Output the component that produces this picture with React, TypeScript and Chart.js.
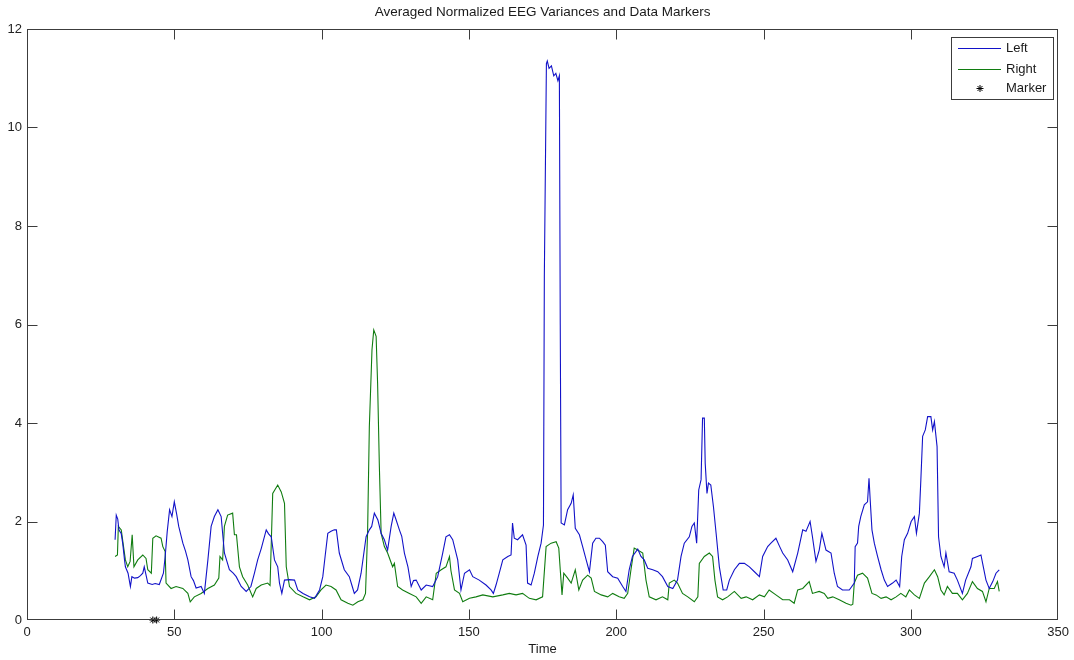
import React, { useEffect, useRef } from "react";
import { Chart, registerables } from "chart.js";

Chart.register(...registerables);

const titleText = "Averaged Normalized EEG Variances and Data Markers";
const xAxisLabel = "Time";
const legendLabels = ["Left", "Right", "Marker"];
const xTickValues = [0, 50, 100, 150, 200, 250, 300, 350];
const yTickValues = [0, 2, 4, 6, 8, 10, 12];

const leftTime = [
  29.9, 30.3, 30.8, 31.2, 32.0, 32.5, 33.1, 33.4, 34.3, 35.1, 35.6, 36.5, 37.6, 38.5, 39.3, 39.8,
  41.0, 42.5, 43.5, 44.9, 46.3, 46.9, 47.6, 48.4, 49.2, 50.0, 50.8, 51.5, 52.9, 53.8, 54.6, 55.7,
  56.5, 57.4, 59.1, 60.2, 61.4, 62.5, 63.6, 64.8, 65.9, 67.0, 68.7, 70.0, 71.0, 72.7, 74.4, 76.0,
  77.2, 78.3, 79.5, 81.2, 82.0, 82.9, 84.0, 85.1, 85.7, 86.5, 87.4, 89.0, 90.8, 91.9, 93.7, 95.9,
  97.6, 99.3, 100.4, 101.2, 102.1, 103.2, 104.3, 105.0, 106.0, 107.7, 109.4, 110.3, 111.1, 112.2,
  113.4, 115.1, 116.2, 117.0, 117.9, 119.1, 120.2, 121.3, 122.4, 123.6, 124.5, 125.3, 126.4, 127.2,
  128.1, 129.3, 130.4, 131.2, 132.1, 133.8, 135.5, 137.7, 139.4, 141.1, 142.2, 143.4, 144.5, 146.2,
  147.3, 148.5, 150.2, 151.3, 153.5, 155.8, 157.5, 158.3, 159.2, 160.3, 161.5, 163.2, 164.3, 164.8,
  165.4, 166.5, 168.2, 169.4, 169.9, 171.1, 172.2, 173.4, 174.5, 175.3, 175.6, 176.3, 176.6, 177.2,
  178.0, 178.8, 179.5, 180.2, 180.7, 181.0, 181.3, 182.4, 183.5, 184.7, 185.4, 186.1, 187.5, 188.6,
  189.8, 190.9, 192.0, 193.1, 194.3, 195.4, 196.3, 197.1, 198.8, 200.5, 202.2, 203.3, 204.4, 205.5,
  207.3, 208.4, 209.5, 210.7, 212.4, 214.1, 215.7, 217.5, 219.2, 220.8, 222.0, 223.1, 224.8, 225.7,
  226.5, 227.3, 228.0, 228.8, 229.3, 229.9, 230.2, 230.8, 231.3, 232.1, 233.0, 233.9, 235.0, 236.3,
  237.5, 238.4, 240.1, 241.8, 243.5, 245.2, 246.9, 248.6, 249.7, 251.4, 252.5, 254.2, 255.4, 256.5,
  258.2, 259.9, 261.6, 263.3, 264.4, 265.8, 266.6, 267.8, 268.9, 269.8, 271.2, 272.9, 274.0, 275.1,
  276.8, 279.1, 280.8, 281.1, 281.9, 282.3, 283.0, 284.2, 285.3, 285.8, 286.2, 286.8, 287.6, 288.7,
  289.9, 291.0, 292.1, 293.8, 295.0, 296.2, 296.9, 297.8, 298.9, 300.1, 301.2, 301.9, 302.9, 303.4,
  304.0, 304.9, 305.7, 306.8, 307.4, 308.0, 308.9, 309.4, 310.2, 311.3, 311.9, 313.0, 314.7, 315.8,
  317.5, 318.6, 320.4, 320.9, 322.6, 323.8, 324.6, 325.5, 326.6, 327.8, 328.9, 330.0,
];
const leftValue = [
  1.63, 2.13, 2.05, 1.83, 1.75, 1.55, 1.22, 1.08, 0.95, 0.68, 0.88, 0.85, 0.86, 0.9, 0.95, 1.08,
  0.75, 0.72, 0.74, 0.72, 0.95, 1.29, 1.8, 2.24, 2.1, 2.4, 2.15, 1.9, 1.56, 1.4, 1.22, 0.88,
  0.8, 0.65, 0.68, 0.54, 1.22, 1.9, 2.1, 2.24, 2.1, 1.36, 1.02, 0.95, 0.88, 0.68, 0.58, 0.68,
  0.95, 1.22, 1.45, 1.83, 1.75, 1.69, 1.22, 1.08, 0.75, 0.54, 0.81, 0.82, 0.81, 0.61, 0.54, 0.47,
  0.44, 0.61, 0.88, 1.3, 1.76, 1.8, 1.83, 1.83, 1.36, 1.02, 0.88, 0.7, 0.54, 0.61,
  0.95, 1.69, 1.83, 1.9, 2.17, 2.03, 1.76, 1.63, 1.42, 1.9, 2.17, 2.03, 1.83, 1.7,
  1.36, 1.08, 0.68, 0.8, 0.81, 0.61, 0.71, 0.68, 0.88, 1.36, 1.69, 1.73, 1.63, 1.22,
  0.61, 0.95, 1.02, 0.88, 0.81, 0.71, 0.61, 0.54, 0.71, 0.95, 1.22, 1.29, 1.32, 1.97,
  1.66, 1.63, 1.73, 1.52, 0.75, 0.71, 0.95, 1.29, 1.56, 1.93, 7.0, 11.3, 11.35, 11.2,
  11.25, 11.05, 11.1, 10.95, 11.05, 6.0, 1.97, 1.93, 2.24, 2.37, 2.54, 1.86, 1.73, 1.49,
  1.22, 0.98, 1.56, 1.66, 1.66, 1.59, 1.52, 0.98, 0.88, 0.85, 0.68, 0.58, 1.02, 1.29,
  1.44, 1.29, 1.22, 1.05, 1.02, 0.98, 0.88, 0.68, 0.64, 0.81, 1.29, 1.56, 1.69, 1.9,
  1.97, 1.56, 2.64, 2.85, 4.1, 4.1, 3.18, 2.57, 2.78, 2.74, 2.3, 1.76, 1.08, 0.61,
  0.61, 0.81, 1.02, 1.15, 1.15, 1.08, 0.98, 0.88, 1.29, 1.49, 1.56, 1.66, 1.5, 1.36,
  1.22, 0.98, 1.36, 1.83, 1.8, 2.0, 1.69, 1.19, 1.42, 1.76, 1.42, 1.36, 0.95, 0.68,
  0.61, 0.61, 0.75, 1.49, 1.56, 1.9, 2.1, 2.34, 2.4, 2.88, 2.44, 1.83, 1.56, 1.29,
  1.02, 0.81, 0.68, 0.75, 0.81, 0.68, 1.29, 1.63, 1.76, 2.0, 2.1, 1.76, 2.17, 2.85,
  3.73, 3.86, 4.13, 4.13, 3.86, 4.03, 3.52, 1.69, 1.29, 1.08, 1.36, 0.98, 0.95, 0.81,
  0.54, 0.81, 1.08, 1.25, 1.29, 1.32, 1.08, 0.81, 0.64, 0.78, 0.95, 1.02,
];

const rightTime = [
  29.9, 30.7, 31.0, 32.0, 32.6, 33.4, 34.2, 35.0, 35.7, 36.3, 37.6, 39.3, 40.4, 41.0, 42.2, 42.7,
  43.8, 45.5, 46.1, 46.9, 47.2, 48.9, 50.6, 52.9, 54.6, 55.4, 56.8, 59.1, 61.4, 63.6, 65.1, 65.5,
  66.4, 67.0, 68.1, 69.8, 70.4, 71.1, 72.1, 73.2, 74.9, 76.6, 77.8, 79.5, 81.7, 82.5, 83.4, 85.1,
  86.3, 87.4, 88.0, 89.1, 91.3, 93.7, 95.9, 98.1, 99.8, 101.5, 103.2, 104.9, 106.6, 108.9, 110.6,
  112.3, 114.0, 114.9, 115.6, 116.2, 117.1, 117.7, 118.5, 119.0, 119.6, 120.2, 121.3, 122.4, 124.1,
  124.7, 125.8, 127.5, 129.8, 132.1, 133.8, 135.5, 137.7, 138.9, 140.6, 142.2, 143.4, 143.9, 145.1,
  146.8, 147.9, 150.2, 152.4, 154.7, 158.1, 161.5, 163.7, 166.0, 168.2, 170.5, 172.8, 175.0, 176.2,
  177.9, 179.6, 180.5, 181.0, 181.6, 182.2, 183.5, 184.7, 186.1, 187.3, 188.6, 190.3, 191.5, 192.6,
  194.9, 197.1, 198.8, 201.0, 202.7, 203.9, 205.0, 206.1, 207.3, 209.0, 210.1, 211.2, 213.5, 215.7,
  217.5, 218.0, 219.7, 220.8, 222.5, 224.3, 226.5, 227.7, 228.2, 229.9, 231.6, 232.7, 233.5, 234.4,
  236.1, 237.8, 240.1, 242.4, 244.1, 246.3, 248.6, 250.3, 251.9, 254.2, 256.5, 258.8, 260.4, 261.6,
  263.3, 265.5, 266.6, 268.9, 270.6, 271.8, 273.5, 275.7, 278.0, 279.7, 280.3, 280.8, 281.9, 283.6,
  285.3, 286.8, 288.2, 289.9, 291.6, 293.3, 295.0, 296.6, 298.3, 299.5, 301.2, 302.9, 304.6, 306.3,
  308.0, 309.1, 310.2, 311.3, 312.4, 314.1, 315.8, 317.5, 319.2, 320.9, 322.6, 324.3, 325.5, 326.6,
  328.3, 329.4, 330.0,
];
const rightValue = [
  1.29, 1.32, 1.9, 1.83, 1.56, 1.22, 1.08, 1.19, 1.73, 1.08, 1.22, 1.32, 1.25, 1.02, 0.95, 1.66,
  1.71, 1.66, 1.49, 1.39, 0.75, 0.64, 0.68, 0.64, 0.54, 0.37, 0.47, 0.54, 0.64, 0.71, 0.85, 1.29,
  1.22, 1.9, 2.13, 2.17, 1.73, 1.73, 1.08, 0.88, 0.71, 0.47, 0.64, 0.71, 0.75, 0.7, 2.57, 2.74,
  2.6, 2.37, 1.08, 0.68, 0.54, 0.47, 0.41, 0.47, 0.61, 0.71, 0.68, 0.61, 0.41, 0.34, 0.3,
  0.37, 0.41, 0.54, 1.76, 3.93, 5.49, 5.89, 5.76, 4.81, 3.12, 1.76, 1.49, 1.36, 1.08,
  1.15, 0.68, 0.61, 0.54, 0.47, 0.34, 0.47, 0.41, 0.95, 1.02, 1.08, 1.29, 1.0, 0.61,
  0.54, 0.37, 0.44, 0.47, 0.51, 0.47, 0.51, 0.54, 0.51, 0.54, 0.44, 0.41, 0.47, 1.49,
  1.56, 1.59, 1.46, 1.02, 0.51, 0.95, 0.85, 0.75, 1.02, 0.61, 0.81, 0.91, 0.85, 0.58,
  0.51, 0.47, 0.54, 0.47, 0.44, 0.54, 1.02, 1.46, 1.42, 1.36, 0.81, 0.47, 0.41, 0.47,
  0.41, 0.75, 0.81, 0.75, 0.54, 0.47, 0.37, 0.47, 1.15, 1.29, 1.36, 1.29, 0.81, 0.47,
  0.41, 0.47, 0.58, 0.44, 0.47, 0.41, 0.51, 0.47, 0.61, 0.51, 0.41, 0.41, 0.34, 0.61,
  0.64, 0.78, 0.54, 0.58, 0.54, 0.44, 0.47, 0.41, 0.34, 0.3, 0.32, 0.75, 0.91, 0.95,
  0.85, 0.54, 0.51, 0.44, 0.47, 0.41, 0.47, 0.54, 0.47, 0.61, 0.51, 0.44, 0.75, 0.88,
  1.02, 0.88, 0.61, 0.51, 0.68, 0.54, 0.54, 0.41, 0.54, 0.78, 0.64, 0.58, 0.37, 0.64,
  0.64, 0.78, 0.58,
];

const markerTime = [42.7, 44.0];
const markerValue = [0, 0];

const FONT = '"Liberation Sans", Arial, sans-serif';
const LEFT_COLOR = "#1212c8";
const RIGHT_COLOR = "#107c10";

function toPoints(xs: number[], ys: number[]) {
  return xs.map((x, i) => ({ x, y: ys[i] }));
}

function drawStar(ctx: CanvasRenderingContext2D, x: number, y: number, r: number) {
  ctx.beginPath();
  ctx.moveTo(x - r, y);
  ctx.lineTo(x + r, y);
  ctx.moveTo(x, y - r);
  ctx.lineTo(x, y + r);
  const d = r * 0.7071;
  ctx.moveTo(x - d, y - d);
  ctx.lineTo(x + d, y + d);
  ctx.moveTo(x - d, y + d);
  ctx.lineTo(x + d, y - d);
  ctx.stroke();
}

const framePlugin = {
  id: "matlabFrame",
  afterDatasetsDraw(chart: any) {
    const { ctx, chartArea, scales } = chart;
    const { left, right, top, bottom } = chartArea;
    const L = Math.round(left) + 0.5;
    const R = Math.round(right) - 0.5;
    const T = Math.round(top) + 0.5;
    const B = Math.round(bottom) - 0.5;
    const clamp = (v: number, a: number, b: number) => Math.min(b, Math.max(a, v));
    ctx.save();
    ctx.strokeStyle = "#3c3c3c";
    ctx.lineWidth = 1;
    ctx.strokeRect(L, T, R - L, B - T);
    const tl = 10;
    ctx.beginPath();
    xTickValues.forEach((v) => {
      const px = clamp(Math.round(scales.x.getPixelForValue(v)) + 0.5, L, R);
      ctx.moveTo(px, B);
      ctx.lineTo(px, B - tl);
      ctx.moveTo(px, T);
      ctx.lineTo(px, T + tl);
    });
    yTickValues.forEach((v) => {
      const py = clamp(Math.round(scales.y.getPixelForValue(v)) + 0.5, T, B);
      ctx.moveTo(L, py);
      ctx.lineTo(L + tl, py);
      ctx.moveTo(R, py);
      ctx.lineTo(R - tl, py);
    });
    ctx.stroke();

    // legend box
    const bx = 951.5, by = 37.5, bw = 102, bh = 62;
    ctx.fillStyle = "#ffffff";
    ctx.fillRect(bx, by, bw, bh);
    ctx.strokeStyle = "#3c3c3c";
    ctx.strokeRect(bx, by, bw, bh);
    const rows = [48.5, 69.5, 88.5];
    ctx.lineWidth = 1;
    ctx.strokeStyle = LEFT_COLOR;
    ctx.beginPath();
    ctx.moveTo(958, rows[0]);
    ctx.lineTo(1001, rows[0]);
    ctx.stroke();
    ctx.strokeStyle = RIGHT_COLOR;
    ctx.beginPath();
    ctx.moveTo(958, rows[1]);
    ctx.lineTo(1001, rows[1]);
    ctx.stroke();
    ctx.strokeStyle = "#000000";
    drawStar(ctx, 980, rows[2], 3.5);
    ctx.fillStyle = "#1a1a1a";
    ctx.font = `13px ${FONT}`;
    ctx.textAlign = "left";
    ctx.textBaseline = "middle";
    legendLabels.forEach((t, i) => ctx.fillText(t, 1006, rows[i]));

    // title and axis label
    ctx.textAlign = "center";
    ctx.font = `13.5px ${FONT}`;
    ctx.fillText(titleText, (left + right) / 2, 12);
    ctx.font = `13px ${FONT}`;
    ctx.fillText(xAxisLabel, (left + right) / 2, 649);
    ctx.restore();
  },
};

export default function App() {
  const canvasRef = useRef<HTMLCanvasElement | null>(null);

  useEffect(() => {
    if (!canvasRef.current) return;
    const chart = new Chart(canvasRef.current, {
      type: "scatter",
      data: {
        datasets: [
          {
            label: legendLabels[0],
            data: toPoints(leftTime, leftValue),
            showLine: true,
            borderColor: LEFT_COLOR,
            backgroundColor: LEFT_COLOR,
            borderWidth: 1.1,
            pointRadius: 0,
            tension: 0,
          },
          {
            label: legendLabels[1],
            data: toPoints(rightTime, rightValue),
            showLine: true,
            borderColor: RIGHT_COLOR,
            backgroundColor: RIGHT_COLOR,
            borderWidth: 1.1,
            pointRadius: 0,
            tension: 0,
          },
          {
            label: legendLabels[2],
            data: toPoints(markerTime, markerValue),
            showLine: false,
            pointStyle: "star",
            pointRadius: 3.5,
            borderColor: "#000000",
            backgroundColor: "#000000",
            borderWidth: 1,
            clip: false,
          } as any,
        ],
      },
      options: {
        animation: false,
        responsive: false,
        events: [],
        layout: { padding: { left: 0, right: 15, top: 29, bottom: 0 } },
        plugins: {
          legend: { display: false },
          title: { display: false },
          tooltip: { enabled: false },
        },
        scales: {
          x: {
            type: "linear",
            min: 0,
            max: 350,
            afterFit: (s: any) => {
              s.height = 40;
            },
            afterBuildTicks: (s: any) => {
              s.ticks = xTickValues.map((v) => ({ value: v }));
            },
            grid: { display: false, drawTicks: false },
            border: { display: false },
            ticks: {
              autoSkip: false,
              maxRotation: 0,
              padding: 5,
              color: "#222222",
              font: { family: FONT, size: 13 },
            },
          },
          y: {
            type: "linear",
            min: 0,
            max: 12,
            afterFit: (s: any) => {
              s.width = 27;
            },
            afterBuildTicks: (s: any) => {
              s.ticks = yTickValues.map((v) => ({ value: v }));
            },
            grid: { display: false, drawTicks: false },
            border: { display: false },
            ticks: {
              autoSkip: false,
              padding: 5,
              color: "#222222",
              font: { family: FONT, size: 13 },
            },
          },
        },
      },
      plugins: [framePlugin],
    });
    return () => chart.destroy();
  }, []);

  return (
    <div style={{ position: "absolute", left: 0, top: 0, width: 1074, height: 660, background: "#ffffff" }}>
      <canvas ref={canvasRef} width={1074} height={660} style={{ display: "block" }} />
    </div>
  );
}
